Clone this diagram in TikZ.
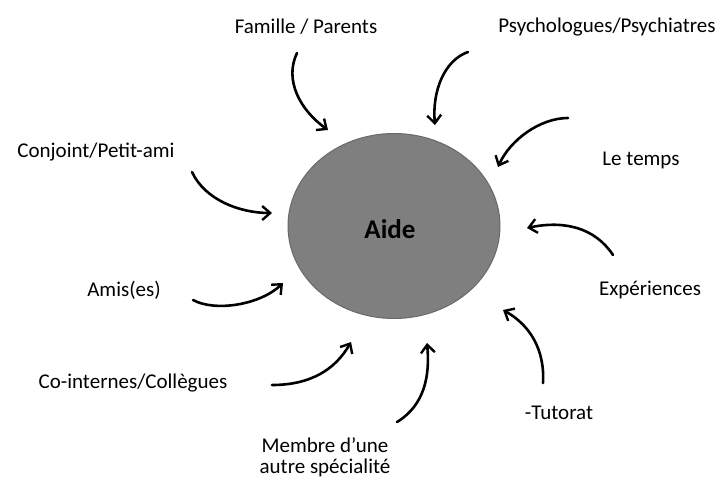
\documentclass[tikz,border=0pt]{standalone}
\usepackage{fontspec}
\setmainfont{Carlito}
\usetikzlibrary{arrows.meta,shapes.geometric}
\definecolor{aidegray}{RGB}{127,127,127}
\definecolor{aideedge}{RGB}{105,105,105}
\tikzset{
  lbl/.style={font=\fontsize{21}{21}\selectfont, inner sep=0pt, align=center},
  flow/.style={line width=2.6pt, line cap=round, -{Straight Barb[length=8pt,width=14pt,line width=2.4pt]}},
}
\begin{document}
\begin{tikzpicture}[x=1pt,y=-1pt]
\useasboundingbox (0,0) rectangle (723,487);
\node[ellipse, minimum width=212pt, minimum height=185pt, fill=aidegray, draw=aideedge, line width=1pt] (aide) at (394,226) {};
\node[font=\fontsize{27}{27}\selectfont\bfseries, inner sep=0pt] (aidet) at (390,229) {Aide};

\node[lbl] (fam) at (306,27) {Famille / Parents};
\node[lbl] (psy) at (607,27) {Psychologues/Psychiatres};
\node[lbl] (conj) at (96,152) {Conjoint/Petit-ami};
\node[lbl] (temps) at (641,160) {Le temps};
\node[lbl] (amis) at (124,290) {Amis(es)};
\node[lbl] (exp) at (650,290) {Expériences};
\node[lbl] (coint) at (133,383) {Co-internes/Collègues};
\node[lbl] (tut) at (559,413) {-Tutorat};
\node[lbl] (memb) at (325,457) {Membre d'une\\autre spécialité};

\coordinate (s1) at (297,53);  \coordinate (e1) at (328,130);
\coordinate (s2) at (468,52);  \coordinate (e2) at (435,125);
\coordinate (s3) at (568,118); \coordinate (e3) at (498,167);
\coordinate (s4) at (192,172); \coordinate (e4) at (272,213);
\coordinate (s5) at (613,255); \coordinate (e5) at (527,228);
\coordinate (s6) at (193,300); \coordinate (e6) at (283,283);
\coordinate (s7) at (272,385); \coordinate (e7) at (351,342);
\coordinate (s8) at (397,422); \coordinate (e8) at (427,343);
\coordinate (s9) at (543,383); \coordinate (e9) at (503,310);

\draw[flow] (s1) .. controls (284,80) and (300,110) .. (e1);
\draw[flow] (s2) .. controls (445,60) and (432,90) .. (e2);
\draw[flow] (s3) .. controls (540,118) and (510,140) .. (e3);
\draw[flow] (s4) .. controls (205,200) and (240,213) .. (e4);
\draw[flow] (s5) .. controls (595,228) and (565,220) .. (e5);
\draw[flow] (s6) .. controls (215,312) and (260,305) .. (e6);
\draw[flow] (s7) .. controls (310,385) and (335,370) .. (e7);
\draw[flow] (s8) .. controls (425,405) and (430,375) .. (e8);
\draw[flow] (s9) .. controls (545,350) and (530,325) .. (e9);
\end{tikzpicture}
\end{document}
